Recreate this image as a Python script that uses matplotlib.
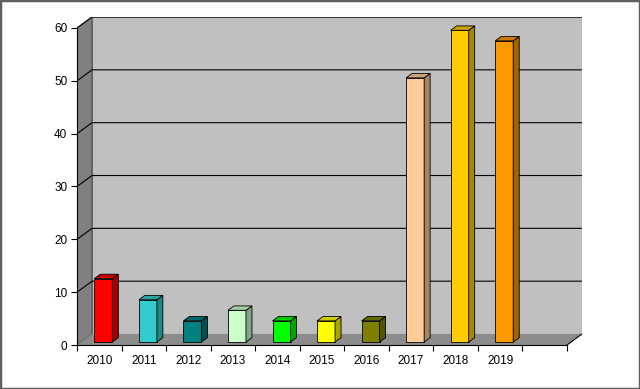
import matplotlib.pyplot as plt
from matplotlib.patches import Polygon, Rectangle
import matplotlib.colors as mcolors

plt.rcParams['font.family'] = ['Liberation Sans', 'DejaVu Sans']

years = ['2010', '2011', '2012', '2013', '2014', '2015', '2016', '2017', '2018', '2019', '']
values = [12, 8, 4, 6, 4, 4, 4, 50, 59, 57, None]
colors = ['#FF0000', '#33CCCC', '#008080', '#CCFFCC', '#00FF00', '#FFFF00',
          '#808000', '#FFCC99', '#FFCC00', '#FF9900', None]

# depth of the fake 3d box, in data units
DX = 0.337
DY = 2.08
YMAX = 60


def shade(c, f):
    r, g, b = mcolors.to_rgb(c)
    return (r * f, g * f, b * f)


def draw_chart():
    fig = plt.figure(figsize=(6.4, 3.89), dpi=100)
    fig.patches.append(Rectangle((0, 0), 1, 1, transform=fig.transFigure,
                                 fill=False, edgecolor='#606060', lw=2.5))
    ax = fig.add_axes([77 / 640, 44 / 389, 505 / 640, 328 / 389])
    n = len(years)
    x_left, x_right = -0.5, n - 0.5
    ax.set_xlim(x_left, x_right + DX)
    ax.set_ylim(0, YMAX + DY)
    ax.patch.set_alpha(0)

    # walls and floor
    ax.add_patch(Polygon([(x_left + DX, DY), (x_right + DX, DY),
                          (x_right + DX, YMAX + DY), (x_left + DX, YMAX + DY)],
                         facecolor='#C0C0C0', edgecolor='#808080', lw=0.8, zorder=0))
    ax.add_patch(Polygon([(x_left, 0), (x_left + DX, DY),
                          (x_left + DX, YMAX + DY), (x_left, YMAX)],
                         facecolor='#808080', edgecolor='#404040', lw=0.6, zorder=1))
    ax.add_patch(Polygon([(x_left, 0), (x_right, 0),
                          (x_right + DX, DY), (x_left + DX, DY)],
                         facecolor='#8C8C8C', edgecolor='none', zorder=1))
    ax.plot([x_right, x_right + DX], [0, DY], color='black', lw=0.8, zorder=2)

    # gridlines
    for v in range(10, YMAX + 1, 10):
        ax.plot([x_left, x_left + DX, x_right + DX], [v, v + DY, v + DY],
                color='black', lw=0.8, zorder=1.5)

    # bars
    w = 0.404
    d0, dd = 0.27, 0.4
    for i, (v, c) in enumerate(zip(values, colors)):
        if v is None:
            continue
        x0 = i - w / 2 + d0 * DX
        y0 = d0 * DY
        ox, oy = dd * DX, dd * DY
        ax.add_patch(Rectangle((x0, y0), w, v, facecolor=c,
                               edgecolor='black', lw=0.6, zorder=3))
        ax.add_patch(Polygon([(x0 + w, y0), (x0 + w + ox, y0 + oy),
                              (x0 + w + ox, y0 + v + oy), (x0 + w, y0 + v)],
                             facecolor=shade(c, 0.65), edgecolor='black', lw=0.6, zorder=3))
        ax.add_patch(Polygon([(x0, y0 + v), (x0 + w, y0 + v),
                              (x0 + w + ox, y0 + v + oy), (x0 + ox, y0 + v + oy)],
                             facecolor=shade(c, 0.8), edgecolor='black', lw=0.6, zorder=3))

    # axes
    for s in ['top', 'right']:
        ax.spines[s].set_visible(False)
    ax.spines['left'].set_bounds(0, YMAX)
    ax.spines['bottom'].set_bounds(x_left, x_right)
    ax.spines['left'].set_linewidth(0.8)
    ax.spines['bottom'].set_linewidth(0.8)
    ax.spines['left'].set_zorder(4)
    ax.spines['bottom'].set_zorder(4)

    ax.set_yticks(range(0, YMAX + 1, 10))
    ax.tick_params(axis='y', length=4, width=0.8, labelsize=8.5, pad=3)
    ax.set_xticks(range(n))
    ax.set_xticklabels(years)
    ax.tick_params(axis='x', which='major', length=0, labelsize=8.5, pad=7)
    ax.set_xticks([x_left + k for k in range(n + 1)], minor=True)
    ax.tick_params(axis='x', which='minor', length=4, width=0.8)

    fig.savefig('out.png', dpi=100)


if __name__ == "__main__":
    draw_chart()
